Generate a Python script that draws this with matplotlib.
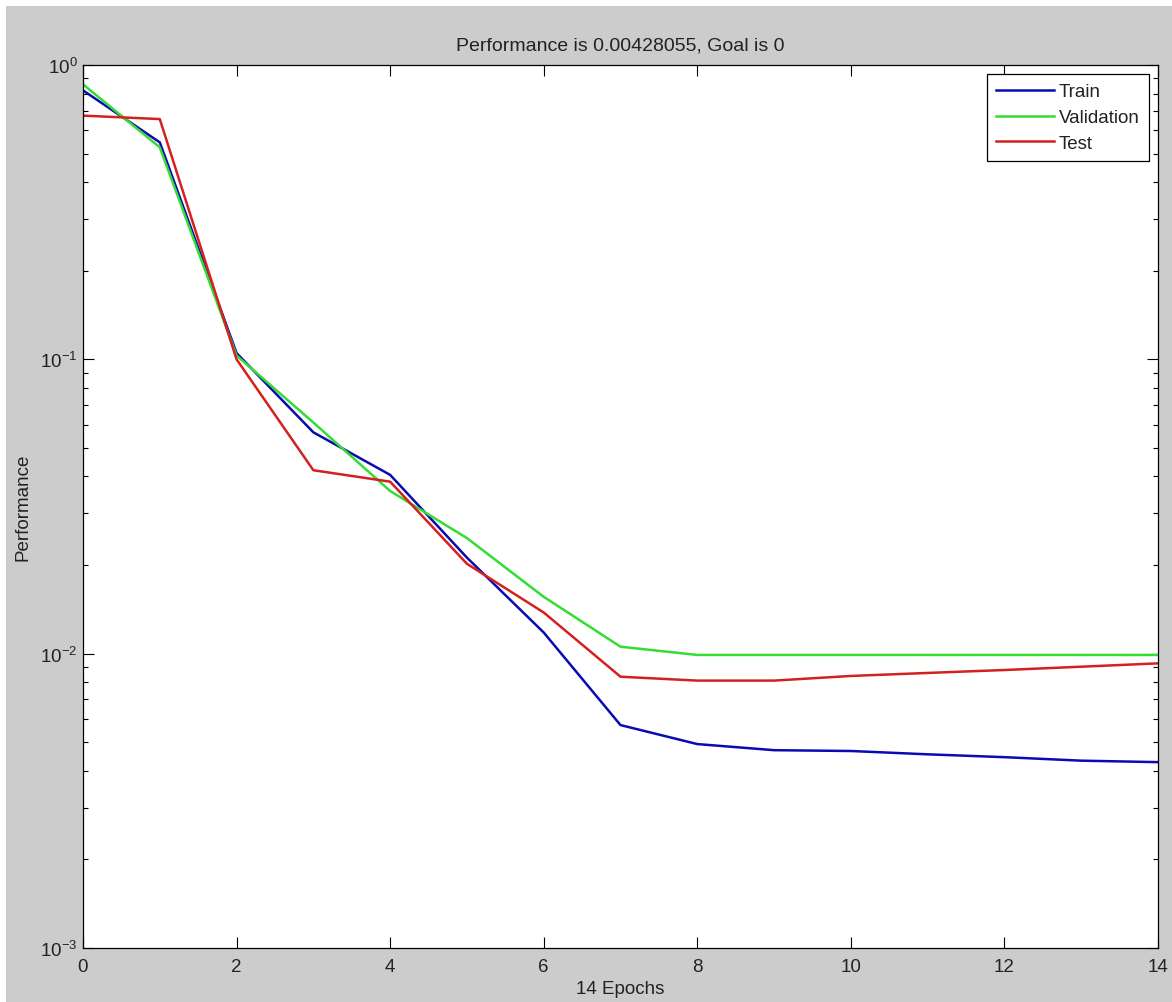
import matplotlib
matplotlib.use("Agg")
import matplotlib.pyplot as plt
from matplotlib.patches import Rectangle
from matplotlib.ticker import LogLocator, LogFormatterMathtext, NullFormatter, FixedLocator

plt.rcParams['font.family'] = ['Liberation Sans', 'DejaVu Sans']
plt.rcParams['mathtext.default'] = 'regular'

# ---- data ----
epochs = list(range(15))
train = [0.82, 0.546, 0.105, 0.0565, 0.0405, 0.0212, 0.0118, 0.00572, 0.00493,
         0.00470, 0.00467, 0.00455, 0.00445, 0.00433, 0.00428]
validation = [0.86, 0.525, 0.103, 0.061, 0.0357, 0.0247, 0.0156, 0.01056, 0.00990,
              0.00990, 0.00990, 0.00990, 0.00990, 0.00990, 0.00990]
test = [0.673, 0.655, 0.100, 0.042, 0.0384, 0.0202, 0.0138, 0.00835, 0.00810,
        0.00810, 0.00840, 0.00860, 0.00880, 0.00903, 0.00927]
series_names = ["Train", "Validation", "Test"]
x_ticks = [0, 2, 4, 6, 8, 10, 12, 14]
title_text = "Performance is 0.00428055, Goal is 0"
x_label = "14 Epochs"
y_label = "Performance"

W, H = 1172, 1003
fig = plt.figure(figsize=(W / 100, H / 100), dpi=100)
fig.patch.set_facecolor('white')
fig.patches.append(Rectangle((6 / W, 0), 1 - 6 / W, 1 - 7 / H, transform=fig.transFigure,
                             facecolor='#cccccc', edgecolor='none', zorder=-10))

left, right, top, bottom = 83, 1158, 66, 949
ax = fig.add_axes([left / W, 1 - bottom / H, (right - left) / W, (bottom - top) / H])
ax.set_facecolor('white')

lw = 1.8
ax.plot(epochs, train, color='#0a0ab4', lw=lw, label=series_names[0])
ax.plot(epochs, validation, color='#33dd33', lw=lw, label=series_names[1])
ax.plot(epochs, test, color='#d42020', lw=lw, label=series_names[2])

ax.set_yscale('log')
ax.set_ylim(1e-3, 1e0)
ax.set_xlim(0, 14)
ax.xaxis.set_major_locator(FixedLocator(x_ticks))
ax.yaxis.set_major_locator(LogLocator(base=10, numticks=10))
ax.yaxis.set_minor_locator(LogLocator(base=10, subs=range(2, 10), numticks=20))
ax.yaxis.set_major_formatter(LogFormatterMathtext())
ax.yaxis.set_minor_formatter(NullFormatter())

fs = 13.5
ax.tick_params(which='both', direction='in', top=True, right=True, width=0.8,
               colors='black', labelsize=fs, labelcolor='#222222')
ax.tick_params(which='major', length=8)
ax.tick_params(which='minor', length=3.8)
ax.tick_params(axis='x', pad=7)
ax.tick_params(axis='y', pad=4)
for s in ax.spines.values():
    s.set_linewidth(0.9)
    s.set_color('black')

ax.set_title(title_text, fontsize=14, pad=11, color='#222222')
ax.set_xlabel(x_label, fontsize=fs, labelpad=4, color='#222222')
ax.set_ylabel(y_label, fontsize=fs, color='#222222')
ax.yaxis.set_label_coords(-0.048, 0.5)

leg = ax.legend(loc='upper right', bbox_to_anchor=(1 - 9 / (right - left), 1 - 9 / (bottom - top)),
                borderaxespad=0, fontsize=fs, fancybox=False, framealpha=1,
                edgecolor='black', handlelength=3.1, handletextpad=0.25,
                labelspacing=0.45, borderpad=0.5)
leg.get_frame().set_linewidth(0.9)
for t in leg.get_texts():
    t.set_color('#222222')

fig.savefig('out.png', dpi=100, facecolor=fig.get_facecolor())
